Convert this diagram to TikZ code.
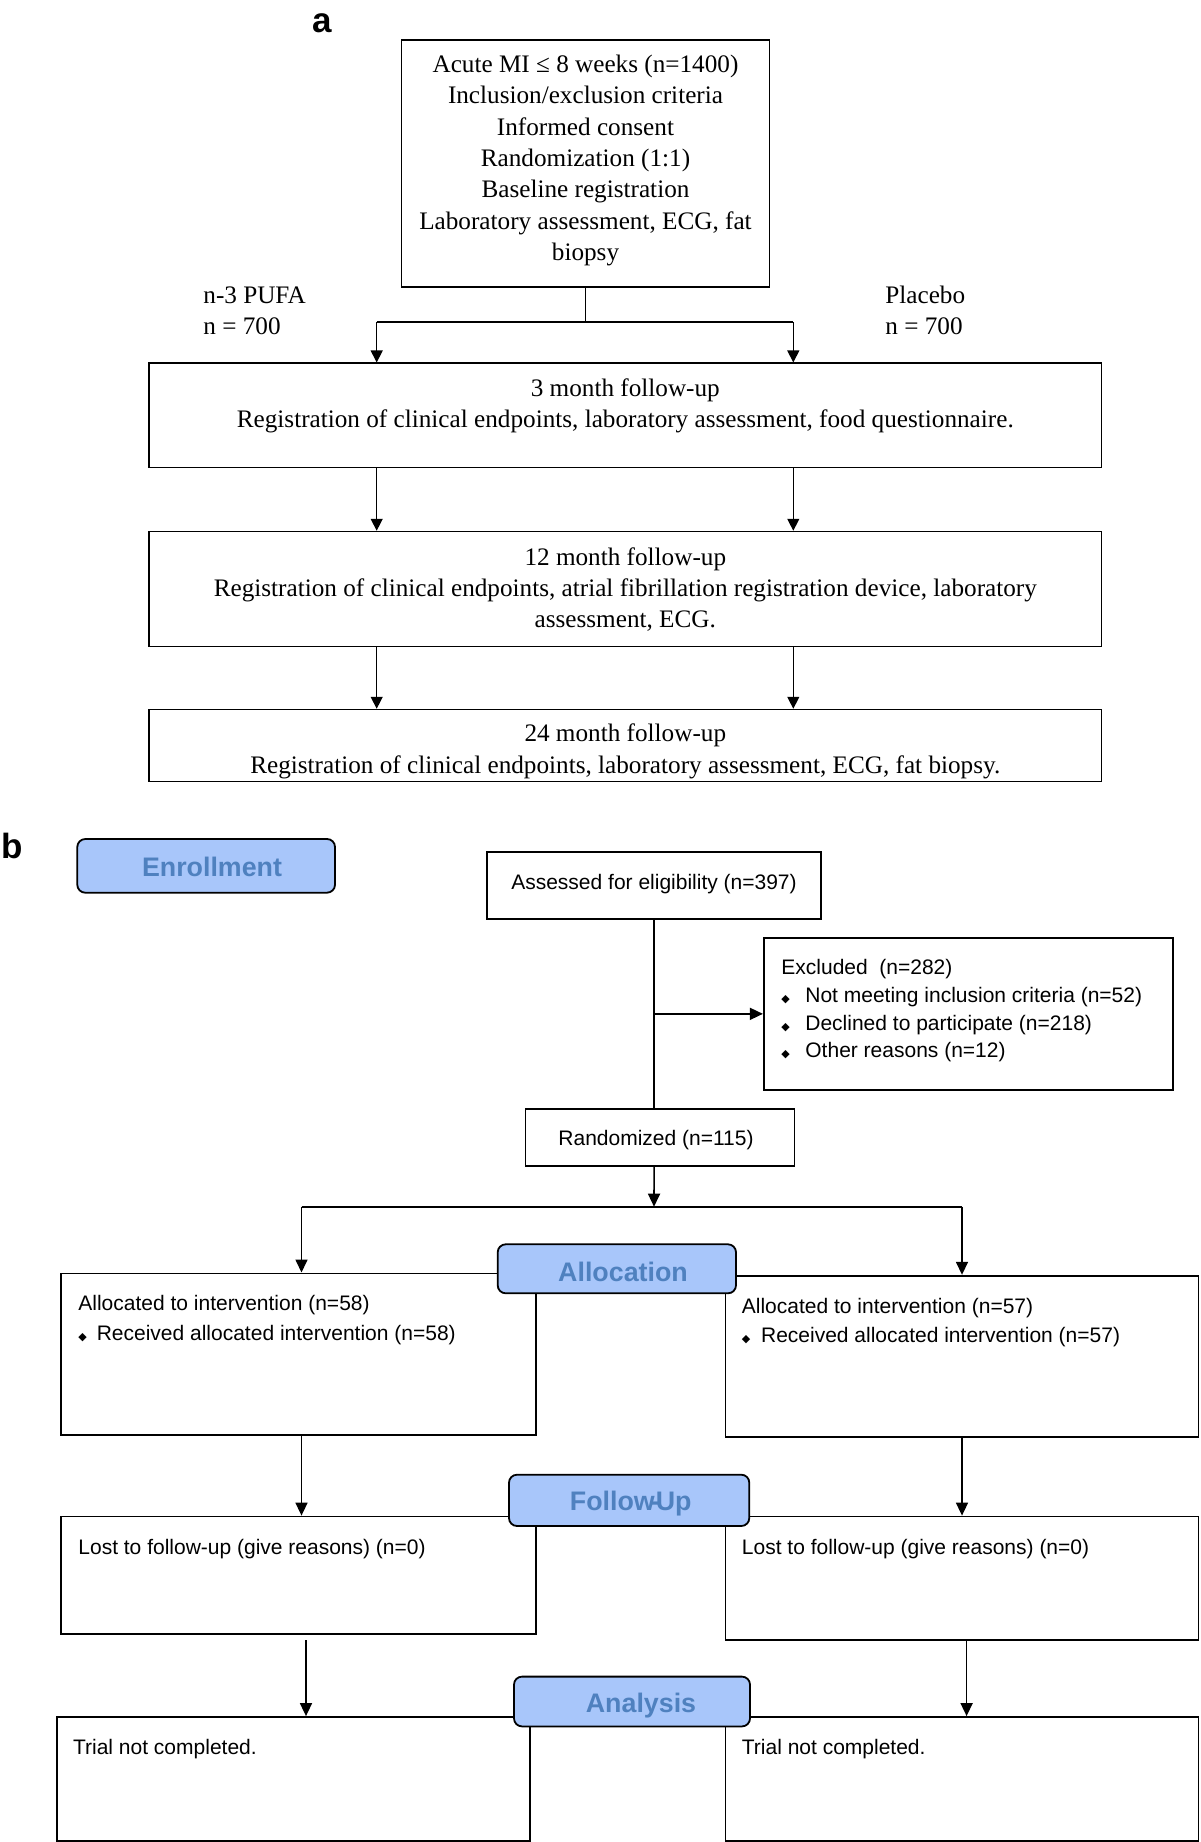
\documentclass[tikz,border=0pt]{standalone}
\usepackage{fontspec}
\setmainfont{Liberation Serif}
\newfontfamily\arialf{Liberation Sans}
\newfontfamily\dejavu{DejaVu Sans}
\usetikzlibrary{fit,arrows.meta}
\definecolor{lblfill}{RGB}{168,198,250}
\definecolor{lbltext}{RGB}{79,129,191}
\newcommand{\bul}{{\dejavu\fontsize{5.5}{6}\selectfont ◆}}
\newcommand{\bitem}[1]{\makebox[#1][l]{\bul}}
\begin{document}
\begin{tikzpicture}[x=0.5pt,y=-0.5pt,
  boxa/.style={draw, line width=0.55pt, inner sep=0pt},
  txta/.style={font=\fontsize{12.6}{15.65}\selectfont, align=center, inner sep=0pt},
  arra/.style={line width=0.65pt, -{Triangle[length=6pt,width=6pt]}},
  linea/.style={line width=0.65pt},
  boxb/.style={draw, line width=0.9pt, inner sep=0pt},
  txtb/.style={font=\arialf\fontsize{10.5}{14.7}\selectfont, align=left, inner sep=0pt},
  lbl/.style={draw, line width=0.9pt, fill=lblfill, rounded corners=4pt, inner sep=0pt},
  lbltxt/.style={font=\arialf\bfseries\fontsize{13.4}{16}\selectfont, text=lbltext, inner sep=0pt},
  arrb/.style={line width=0.8pt, -{Triangle[length=6.5pt,width=6pt]}},
  lineb/.style={line width=0.8pt},
  panel/.style={font=\arialf\bfseries\fontsize{17.5}{20}\selectfont, inner sep=0pt}
]
\useasboundingbox[fill=white] (0,0) rectangle (1200,1842);

% ---------------- panel a ----------------
\node[panel] (pa) at (322,23) {a};
\node[boxa, fit={(401.5,40) (769.5,287)}] (mi) {};
\node[txta] (mit) at (585.5,160.5) {Acute MI ≤ 8 weeks (n=1400)\\Inclusion/exclusion criteria\\Informed consent\\Randomization (1:1)\\Baseline registration\\Laboratory assessment, ECG, fat\\biopsy};
\node[txta, align=left, anchor=west] (pufa) at (203,311) {n-3 PUFA\\n = 700};
\node[txta, align=left, anchor=west] (plac) at (885,310.5) {Placebo\\n = 700};

\node[boxa, fit={(149,363) (1101.7,467.7)}] (f3) {};
\node[txta] (f3t) at (625.3,405.8) {3 month follow-up\\Registration of clinical endpoints, laboratory assessment, food questionnaire.};
\node[boxa, fit={(149,531.3) (1101.7,646.7)}] (f12) {};
\node[txta] (f12t) at (625.3,589.5) {12 month follow-up\\Registration of clinical endpoints, atrial fibrillation registration device, laboratory\\assessment, ECG.};
\node[boxa, fit={(149,709.3) (1101.7,781.7)}] (f24) {};
\node[txta] (f24t) at (625.3,751.2) {24 month follow-up\\Registration of clinical endpoints, laboratory assessment, ECG, fat biopsy.};

\coordinate (aM) at (585.5,322);
\coordinate (aL) at (376.7,322);
\coordinate (aR) at (793.3,322);
\draw[linea] (mi.south) -- (aM);
\draw[linea] (aL) -- (aR);
\draw[arra] (aL) -- (aL |- f3.north);
\draw[arra] (aR) -- (aR |- f3.north);
\draw[arra] (aL |- f3.south) -- (aL |- f12.north);
\draw[arra] (aR |- f3.south) -- (aR |- f12.north);
\draw[arra] (aL |- f12.south) -- (aL |- f24.north);
\draw[arra] (aR |- f12.south) -- (aR |- f24.north);

% ---------------- panel b ----------------
\node[panel] (pb) at (12,846) {b};
\node[boxb, fit={(487,852.3) (821.2,918.7)}] (ass) {};
\node[txtb] (asst) at (654,884.5) {Assessed for eligibility (n=397)};
\node[boxb, fit={(763.8,937.7) (1173.3,1090)}] (exc) {};
\node[txtb, anchor=west, font=\arialf\fontsize{10.5}{13.85}\selectfont] (exct) at (781,1011) {Excluded~ (n=282)\\\bitem{12pt}Not meeting inclusion criteria (n=52)\\\bitem{12pt}Declined to participate (n=218)\\\bitem{12pt}Other reasons (n=12)};
\node[boxb, fit={(525.5,1109.3) (794.4,1165.7)}] (rand) {};
\node[txtb] (randt) at (656,1140.5) {Randomized (n=115)};

\coordinate (split) at (654,1206.7);
\coordinate (colL) at (301.5,1206.7);
\coordinate (colR) at (962,1206.7);
\draw[lineb] (ass.south) -- (ass.south |- rand.north);
\draw[arrb] (ass.south |- exc.west) -- (exc.west);
\draw[arrb] (ass.south |- rand.south) -- (split);
\draw[lineb] (colL) -- (colR);

\node[boxb, fit={(61.2,1273.4) (535.7,1435)}] (al) {};
\node[boxb, fit={(725.5,1275.7) (1198.5,1437.2)}] (ar) {};
\draw[arrb] (colL) -- (colL |- al.north);
\draw[arrb] (colR) -- (colR |- ar.north);
\node[txtb, anchor=west] (alt) at (78,1320) {Allocated to intervention (n=58)\\\bitem{9.2pt}Received allocated intervention (n=58)};
\node[txtb, anchor=west] (art) at (741.5,1322.8) {Allocated to intervention (n=57)\\\bitem{9.6pt}Received allocated intervention (n=57)};

\node[boxb, fit={(61.2,1516.5) (535.7,1634)}] (ll) {};
\node[boxb, fit={(725.5,1516.5) (1198.5,1640)}] (lr) {};
\draw[arrb] (colL |- al.south) -- (colL |- ll.north);
\draw[arrb] (colR |- ar.south) -- (colR |- lr.north);
\node[txtb, anchor=west] (llt) at (78,1548.8) {Lost to follow-up (give reasons) (n=0)};
\node[txtb, anchor=west] (lrt) at (741.5,1548.8) {Lost to follow-up (give reasons) (n=0)};

\node[boxb, fit={(56.6,1717) (529.6,1840.8)}] (tl) {};
\node[boxb, fit={(725.5,1717) (1198.5,1840.8)}] (tr) {};
\coordinate (colL2) at (306,1640);
\coordinate (colR2) at (966.6,1640);
\draw[arrb] (colL2) -- (colL2 |- tl.north);
\draw[arrb] (colR2 |- lr.south) -- (colR2 |- tr.north);
\node[txtb, anchor=west] (tlt) at (72.7,1748.9) {Trial not completed.};
\node[txtb, anchor=west] (trt) at (741.5,1748.9) {Trial not completed.};

% stage labels
\node[lbl, fit={(77.3,839) (335,892.7)}] (enr) {};
\node[lbltxt] (enrt) at (212,867) {Enrollment};
\node[lbl, fit={(497.7,1244.3) (736,1293.3)}] (alc) {};
\node[lbltxt] (alct) at (623,1272) {Allocation};
\node[lbl, fit={(509,1474.7) (749.3,1526)}] (fu) {};
\node[lbltxt] (fut) at (630.7,1504) {Follow\kern-2pt-\kern-2pt Up};
\node[lbl, fit={(514,1676.6) (750,1726.4)}] (an) {};
\node[lbltxt] (ant) at (641,1706) {Analysis};
\end{tikzpicture}
\end{document}
